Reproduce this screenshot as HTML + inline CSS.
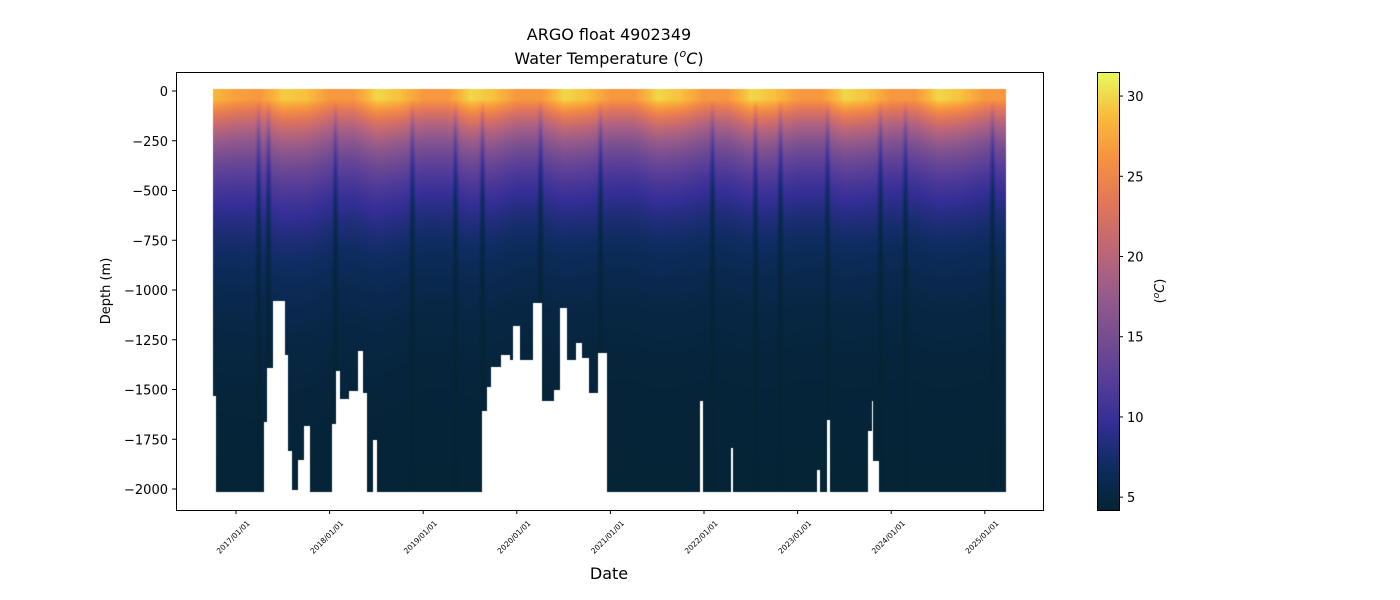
<!DOCTYPE html>
<html><head><meta charset="utf-8">
<style>
body{margin:0;background:#fff;width:1400px;height:600px;overflow:hidden;font-family:"DejaVu Sans","Liberation Sans",sans-serif;}
#wrap{position:relative;width:1400px;height:600px;}
canvas{position:absolute;}
svg{position:absolute;left:0;top:0;}
</style></head>
<body>
<div id="wrap">
<canvas id="plot" width="867" height="438" style="left:176px;top:72px"></canvas>
<canvas id="cbar" width="22" height="438" style="left:1097px;top:72px"></canvas>
<svg id="svg" width="1400" height="600">
 <text x="609" y="40" text-anchor="middle" font-size="16">ARGO float 4902349</text>
 <text x="609" y="64" text-anchor="middle" font-size="16">Water Temperature (<tspan font-style="italic" font-size="11" dy="-7">o</tspan><tspan font-style="italic" dy="7">C</tspan>)</text>
 <rect x="176.5" y="72.5" width="867" height="438" fill="none" stroke="#000" stroke-width="1"/>
 <rect x="1097.5" y="72.5" width="22" height="438" fill="none" stroke="#000" stroke-width="1"/>
 <text x="609" y="579" text-anchor="middle" font-size="16">Date</text>
 <text transform="translate(110,291) rotate(-90)" text-anchor="middle" font-size="13">Depth (m)</text>
 <text transform="translate(1164,291) rotate(-90)" text-anchor="middle" font-size="13">(<tspan font-style="italic" font-size="9" dy="-5">o</tspan><tspan font-style="italic" dy="5">C</tspan>)</text>
 <g id="yt"></g><g id="xt"></g><g id="ct"></g>
</svg>
</div>
<script>
// ---- data ----
const segStart = [2016.744,2016.779,2017.299,2017.328,2017.385,2017.516,2017.552,2017.588,2017.659,2017.716,2017.780,2018.015,2018.068,2018.111,2018.207,2018.300,2018.354,2018.389,2018.460,2018.506,2019.628,2019.671,2019.724,2019.831,2019.917,2019.959,2020.024,2020.173,2020.259,2020.397,2020.451,2020.526,2020.632,2020.686,2020.771,2020.864,2020.953,2021.957,2021.984,2022.278,2022.305,2023.207,2023.239,2023.314,2023.340,2023.752,2023.789,2023.805,2023.859];
const segDepth = [1518,2000,1650,1375,1040,1310,1795,1990,1840,1670,2000,1660,1390,1535,1490,1290,1500,2000,1740,2000,1595,1470,1370,1310,1335,1165,1335,1050,1545,1485,1075,1335,1250,1325,1500,1300,2000,1545,2000,1780,2000,1890,2000,1640,2000,1695,1545,1845,2000];
const endYear = 2025.226;
const qStart = 2016.75;
const surfTemp = [28.5,27,26.5,29.5,29,26.5,26.5,30,29,26.5,26.5,30,29,26.5,26.5,30,29,26.5,26.5,30,29,26.5,26.5,30,29,26.5,26.5,30,29,26.5,26.5,30,29,26.5,26.5];
const scaleDepth = [360,370,380,380,380,370,360,360,350,340,340,340,340,330,330,330,330,330,330,330,330,330,330,330,330,330,330,330,330,330,330,330,330,330,330];
const coldStreaks = [2017.235,2017.342,2018.058,2018.880,2019.340,2019.628,2020.248,2020.889,2022.085,2022.545,2022.812,2023.314,2023.880,2024.147,2025.077];
const yTicks = [0,-250,-500,-750,-1000,-1250,-1500,-1750,-2000];
const xTickYears = [2017,2018,2019,2020,2021,2022,2023,2024,2025];
const cTicks = [5,10,15,20,25,30];
const tMin = 4.2, tMax = 31.5;

// ---- scales ----
const PX = 176, PY = 72;
const xS = y => 236 + (y - 2017) * 93.6;
const yS = d => 91 - d * 0.199;
const cS = t => 510 - (t - tMin) / (tMax - tMin) * 438;
const stops = [[0,[4,35,51]],[0.1,[14,44,96]],[0.2,[52,46,150]],[0.3,[88,62,152]],[0.4,[120,78,145]],[0.5,[154,92,138]],[0.6,[192,103,118]],[0.7,[225,118,90]],[0.8,[246,145,64]],[0.9,[249,187,60]],[1,[232,250,91]]];
function cmap(t){let f=Math.max(0,Math.min(1,(t-tMin)/(tMax-tMin)));
 for(let i=1;i<stops.length;i++){if(f<=stops[i][0]){const a=stops[i-1],b=stops[i];const u=(f-a[0])/(b[0]-a[0]);return a[1].map((v,k)=>v+(b[1][k]-v)*u);}}return stops[stops.length-1][1];}
function qInterp(arr,yr){let p=(yr-qStart)/0.25;let i=Math.max(0,Math.min(arr.length-2,Math.floor(p)));let u=Math.max(0,Math.min(1,p-i));return arr[i]+(arr[i+1]-arr[i])*u;}

// ---- plot ----
const cv=document.getElementById('plot'),ctx=cv.getContext('2d');
const W=cv.width,H=cv.height,img=ctx.createImageData(W,H);
for(let px=0;px<W;px++){
 const yr=2017+(px+PX-236)/93.6;
 if(yr<segStart[0]||yr>endYear) continue;
 let s=0;for(let i=0;i<segStart.length;i++){if(yr>=segStart[i]) s=i;}
 const maxD=segDepth[s];
 const Ts=qInterp(surfTemp,yr);let Hs=qInterp(scaleDepth,yr);
 for(const c of coldStreaks){const dd=Math.abs(yr-c);if(dd<0.04) Hs*=0.62+dd/0.04*0.38;}
 const yTop=Math.round(yS(0))-2-PY, yBot=Math.round(yS(-maxD))+2-PY;
 for(let py=Math.max(0,yTop);py<=Math.min(H-1,yBot);py++){
  const d=Math.max(0,(py+PY-91)/0.199);
  const z=Math.max(0,d-40);
  const t=4.3+(Ts-4.3)*Math.exp(-z/Hs);
  const c=cmap(t);const k=(py*W+px)*4;
  img.data[k]=c[0];img.data[k+1]=c[1];img.data[k+2]=c[2];img.data[k+3]=255;
 }
}
ctx.putImageData(img,0,0);

// ---- colorbar ----
const cb=document.getElementById('cbar'),cc=cb.getContext('2d');
for(let py=0;py<438;py++){const t=tMax-(py/438)*(tMax-tMin);const c=cmap(t);cc.fillStyle=`rgb(${c.map(Math.round).join(',')})`;cc.fillRect(0,py,22,1);}

// ---- ticks ----
const NS='http://www.w3.org/2000/svg';
function mk(tag,attrs,parent,txt){const e=document.createElementNS(NS,tag);for(const k in attrs)e.setAttribute(k,attrs[k]);if(txt!==undefined)e.textContent=txt;parent.appendChild(e);return e;}
const yt=document.getElementById('yt');
yTicks.forEach(v=>{const y=yS(v);
 const l=mk('line',{x1:172,x2:176,y1:y,y2:y,stroke:'#000'},yt);
 
 
 const t=mk('text',{x:168,y:y+5,'text-anchor':'end','font-size':13},yt,String(v).replace('-','\u2212'));
 
 
});
const xt=document.getElementById('xt');
xTickYears.forEach(v=>{const x=xS(v);
 const l=mk('line',{x1:x,x2:x,y1:510,y2:514,stroke:'#000'},xt);
 
 
 const t=mk('text',{transform:`translate(${x-1},${539}) rotate(-45)`,'text-anchor':'middle','font-size':7.5},xt,v+'/01/01');
 
 
});
const ct=document.getElementById('ct');
cTicks.forEach(v=>{const y=cS(v);
 const l=mk('line',{x1:1119,x2:1123,y1:y,y2:y,stroke:'#000'},ct);
 
 
 const t=mk('text',{x:1127,y:y+5,'font-size':13},ct,String(v));
 
 
});
</script>
</body></html>
